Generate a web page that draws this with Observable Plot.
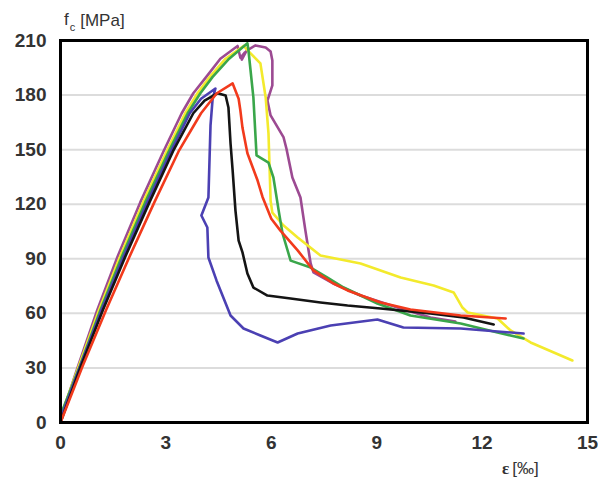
<!DOCTYPE html>
<html>
<head>
<meta charset="utf-8">
<script src="https://cdn.jsdelivr.net/npm/d3@7"></script>
<script src="https://cdn.jsdelivr.net/npm/@observablehq/plot@0.6"></script>
<style>
  html, body { margin: 0; padding: 0; background: #fff; }
  #chart svg { display: block; }
</style>
</head>
<body>
<div id="chart"></div>
<script>
// strain [‰], stress [MPa]
const xTicks = [0, 3, 6, 9, 12, 15];
const yTicks = [0, 30, 60, 90, 120, 150, 180, 210];
const gridTicks = [30, 60, 90, 120, 150, 180];

const specimenRed = [[0,0],[0.63,31],[1.3,62],[1.96,91],[2.67,121],[3.36,149],[4.0,170],[4.45,181],[4.9,186.4],
  [5.07,178],[5.12,171.5],[5.18,162],[5.32,148],[5.61,133],[5.75,124],[6.0,112],[6.26,105.5],[6.75,94.6],[7.2,83.6],
  [7.77,76.4],[8.17,72.6],[9.11,66],[9.96,62.1],[11.39,58.8],[12.67,57.2]];

const specimenBlack = [[0,0],[0.58,31],[1.21,62],[1.84,91],[2.53,121],[3.2,149],[3.78,170],[4.1,177],[4.47,181],
  [4.7,179.8],[4.78,173.2],[4.84,153.4],[4.9,138.5],[4.98,116.5],[5.07,100],[5.18,93.5],[5.32,81.9],[5.49,74.2],
  [5.89,69.8],[6.55,68.2],[7.4,66],[8.17,64.3],[9.11,62.7],[10.53,59.9],[11.47,57.7],[12.33,53.9]];

const specimenBlue = [[0,2],[0.56,31],[1.17,62],[1.79,91],[2.47,121],[3.14,149],[3.68,170],[4.0,178],[4.41,183.6],
  [4.33,178.1],[4.27,163.3],[4.21,123.7],[4.01,113.8],[4.18,107.2],[4.21,90.7],[4.44,78.1],[4.84,58.8],[5.21,51.7],
  [5.69,47.8],[6.18,44],[6.75,48.9],[7.69,53.3],[9.02,56.6],[9.76,52.2],[11.39,51.7],[13.18,48.9]];

const specimenGreen = [[0,4],[0.55,31],[1.14,62],[1.74,91],[2.41,121],[3.08,149],[3.62,170],[3.98,181],[4.33,190],[4.8,200],[5.32,208.5],
  [5.35,204.5],[5.49,178.7],[5.58,146.8],[5.92,142.9],[6.06,134.7],[6.21,116.5],[6.32,103.9],[6.55,89],[7.12,85.2],
  [7.6,79.7],[8.06,74.2],[9.02,65.4],[9.96,58.8],[11.39,54.4],[12.44,49.5],[13.18,46.2]];

const specimenYellow = [[0,3],[0.52,31],[1.1,62],[1.69,91],[2.35,121],[3.02,149],[3.55,170],[3.9,181],[4.25,190],[4.7,200],[5.21,207],
  [5.41,202.9],[5.69,197.4],[5.84,178.7],[5.92,158.9],[5.98,122],[6.03,115.4],[6.35,108.3],[6.75,101.7],[7.4,91.8],
  [8.54,87.4],[9.68,79.7],[10.62,75.3],[11.19,71.5],[11.44,63.2],[11.59,60.5],[12.44,57.2],[12.81,50.6],[13.38,44],[14.57,34.1]];

const specimenPurple = [[0,2],[0.5,31],[1.05,62],[1.62,91],[2.27,121],[2.93,149],[3.45,170],[3.78,181],[4.15,190],[4.55,200],[5.04,207],
  [5.12,200.5],[5.25,203.5],[5.16,199.5],[5.3,204.5],[5.55,207.3],[5.84,206.2],[5.98,204],[6.03,199],[6.03,185.3],
  [5.89,177],[5.98,168.8],[6.35,156.7],[6.43,150.6],[6.6,134.7],[6.83,123.7],[6.97,105.6],[7.12,87.4],[7.2,82.5],
  [7.77,76.4],[8.54,69.8],[9.68,62.7],[10.53,57.7],[11.24,55.5]];

const series = [
  {data: specimenPurple, color: "#9c4a92"},
  {data: specimenYellow, color: "#f3ea2c"},
  {data: specimenGreen, color: "#3aa64a"},
  {data: specimenBlue, color: "#4b40b3"},
  {data: specimenBlack, color: "#141414"},
  {data: specimenRed, color: "#f23a1c"}
];

const plot = Plot.plot({
  width: 598,
  height: 482,
  marginLeft: 60,
  marginRight: 11,
  marginTop: 40,
  marginBottom: 60,
  style: {background: "#fff", fontFamily: "Liberation Sans, Arial, sans-serif", color: "#333"},
  x: {domain: [0, 15]},
  y: {domain: [0, 210]},
  marks: [
    Plot.ruleY(gridTicks, {stroke: "#dcdcdc", strokeWidth: 2}),
    ...series.map(s => Plot.line(s.data, {x: d => d[0], y: d => d[1], stroke: s.color, strokeWidth: 2.6, strokeLinejoin: "round"})),
    Plot.frame({stroke: "#000", strokeWidth: 3}),
    Plot.axisX({ticks: xTicks, tickSize: 0, tickPadding: 13, fontSize: 19, fontWeight: "bold", fill: "#333", label: null}),
    Plot.axisY({ticks: yTicks, tickSize: 0, tickPadding: 14, fontSize: 19, fontWeight: "bold", fill: "#333", label: null})
  ]
});

const svg = d3.select(plot);
const t1 = svg.append("text").attr("x", 64).attr("y", 25).attr("fill", "#333")
  .attr("text-anchor", "start")
  .style("font-family", "Liberation Sans, Arial, sans-serif");
t1.append("tspan").attr("font-size", 17).text("f");
t1.append("tspan").attr("font-size", 11).attr("dy", 6).attr("dx", 1).text("c");
t1.append("tspan").attr("font-size", 17).attr("dy", -5).attr("dx", 5).text("[MPa]");

const t2 = svg.append("text").attr("x", 502).attr("y", 474).attr("fill", "#333")
  .attr("text-anchor", "start");
t2.append("tspan").attr("font-size", 17).attr("font-weight", "bold")
  .style("font-family", "Liberation Serif, serif").text("ε");
t2.append("tspan").attr("font-size", 17).attr("dx", 3)
  .style("font-family", "Liberation Sans, Arial, sans-serif").text("[‰]");

document.getElementById("chart").appendChild(plot);
</script>
</body>
</html>
